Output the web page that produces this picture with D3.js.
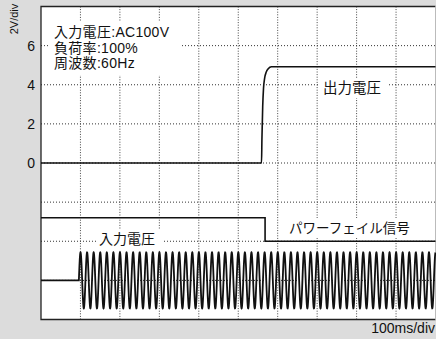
<!DOCTYPE html>
<html>
<head>
<meta charset="utf-8">
<script src="https://cdn.jsdelivr.net/npm/d3@7"></script>
<style>
  body { margin: 0; background: #dcdcdc; }
  text { font-family: "Liberation Sans", "Noto Sans CJK JP", sans-serif; fill: #111; }
</style>
</head>
<body>
<script>
// y ticks (V) and grid
var yTicks = [0, 2, 4, 6];
var yGrid = [-6, -4, -2, 0, 2, 4, 6];
var xGrid = [100, 200, 300, 400, 500, 600, 700, 800, 900];

// output voltage (ms, V)
var outTime = [0, 559, 560, 562, 564, 567, 571, 576, 584, 1000];
var outVolt = [0, 0, 1.2, 2.9, 3.8, 4.35, 4.65, 4.82, 4.92, 4.92];

// power fail signal (ms, level)
var pfTime = [0, 568, 568, 1000];
var pfLevel = [-2.8, -2.8, -4.0, -4.0];

// input AC: 60Hz, starts at ~96ms, centred on -6
var acStart = 96;
var acFreq = 60;
var acAmp = 1.43;
var acBase = -6;

var notes = ["入力電圧:AC100V", "負荷率:100%", "周波数:60Hz"];

var width = 436, height = 339;
var x = d3.scaleLinear().domain([0, 1000]).range([41, 435.5]);
var y = d3.scaleLinear().domain([-8, 8]).range([319.5, 6.5]);

var svg = d3.select("body").append("svg")
    .attr("width", width)
    .attr("height", height);

svg.append("rect")
    .attr("x", x(0)).attr("y", y(8))
    .attr("width", x(1000) - x(0)).attr("height", y(-8) - y(8))
    .style("fill", "white");

// grid
svg.selectAll(".vgrid").data(xGrid).enter().append("line")
    .attr("x1", d => x(d)).attr("x2", d => x(d))
    .attr("y1", y(8)).attr("y2", y(-8))
    .style("stroke", "#444").style("stroke-width", 1).style("stroke-dasharray", "1,1.6");
svg.selectAll(".hgrid").data(yGrid).enter().append("line")
    .attr("x1", x(0)).attr("x2", x(1000))
    .attr("y1", d => y(d)).attr("y2", d => y(d))
    .style("stroke", "#333").style("stroke-width", 1).style("stroke-dasharray", "1,2");

// white boxes behind labels
function box(x0, y0, w, h) {
    svg.append("rect").attr("x", x0).attr("y", y0).attr("width", w).attr("height", h).style("fill", "white");
}
box(50, 22, 132, 53);
box(318, 78, 70, 20);
box(96, 230, 66, 20);
box(286, 218, 126, 20);

// frame
svg.append("path")
    .attr("d", "M" + x(1000) + "," + y(8) + "H" + x(0) + "V" + y(-8) + "H" + x(1000))
    .style("fill", "none").style("stroke", "#222").style("stroke-width", 1.3);
svg.append("line")
    .attr("x1", x(1000)).attr("x2", x(1000)).attr("y1", y(8)).attr("y2", y(-8))
    .style("stroke", "#bbb").style("stroke-width", 1);

var line = d3.line().x(d => x(d[0])).y(d => y(d[1]));

// output voltage
svg.append("path")
    .datum(d3.zip(outTime, outVolt))
    .attr("d", line.curve(d3.curveMonotoneX))
    .style("fill", "none").style("stroke", "#111").style("stroke-width", 1.6);

// power fail
svg.append("path")
    .datum(d3.zip(pfTime, pfLevel))
    .attr("d", d3.line().x(d => x(d[0])).y(d => y(d[1])))
    .style("fill", "none").style("stroke", "#111").style("stroke-width", 1.6);

// input AC
var acPts = [[0, acBase], [acStart, acBase]];
for (var t = acStart; t <= 1000; t += 0.25) {
    acPts.push([t, acBase + acAmp * Math.sin(2 * Math.PI * acFreq * (t - acStart) / 1000)]);
}
svg.append("path")
    .datum(acPts)
    .attr("d", d3.line().x(d => x(d[0])).y(d => y(d[1])))
    .style("fill", "none").style("stroke", "#111").style("stroke-width", 1.8);

// tick labels
svg.selectAll(".ytick").data(yTicks).enter().append("text")
    .attr("x", 35).attr("y", d => y(d)).attr("dy", "0.36em")
    .attr("text-anchor", "end").style("font-size", "14px")
    .text(d => d);

svg.append("text")
    .attr("transform", "translate(17.5,19) rotate(-90)")
    .attr("text-anchor", "middle").style("font-size", "11px")
    .text("2V/div");

svg.append("text")
    .attr("x", 435).attr("y", 333)
    .attr("text-anchor", "end").style("font-size", "14px")
    .text("100ms/div");

// annotations
svg.selectAll(".note").data(notes).enter().append("text")
    .attr("x", 54).attr("y", (d, i) => 37 + i * 15.5)
    .style("font-size", "14px").style("letter-spacing", "0.3px")
    .text(d => d);

svg.append("text").attr("x", 323).attr("y", 93).style("font-size", "14.5px").text("出力電圧");
svg.append("text").attr("x", 99).attr("y", 244).style("font-size", "14px").text("入力電圧");
svg.append("text").attr("x", 289).attr("y", 233).style("font-size", "13.5px").text("パワーフェイル信号");
</script>
</body>
</html>
